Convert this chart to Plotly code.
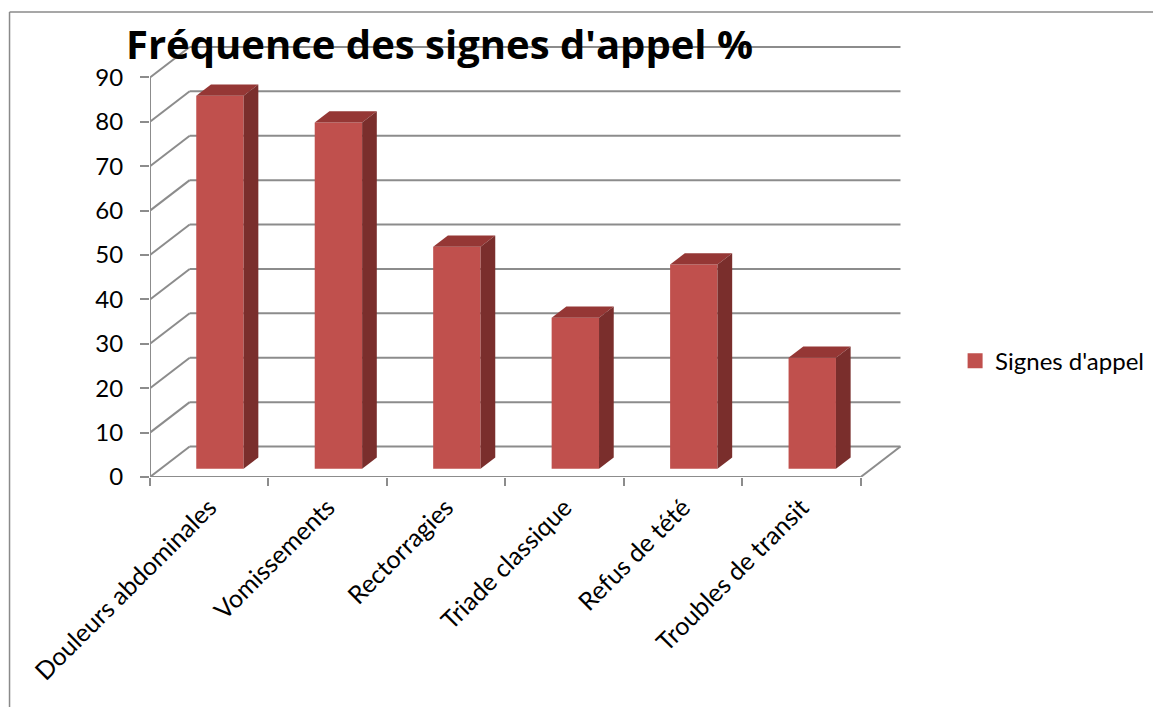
import plotly.graph_objects as go

# ---- data ----
categories = ["Douleurs abdominales", "Vomissements", "Rectorragies",
              "Triade classique", "Refus de tété", "Troubles de transit"]
values = [84, 78, 50, 34, 46, 25]
y_ticks = [0, 10, 20, 30, 40, 50, 60, 70, 80, 90]
series_name = "Signes d'appel"
title_text = "Fréquence des signes d'appel %"

# ---- geometry (pixels, page coords; page body has an 8px margin) ----
OFF = 8
W, H = 1161 - OFF, 707 - OFF
PX_CAT = 119.33
PX_UNIT = 4.444
x_range = [0, 6.5]
y_range = [0, 100]
plot_w = (x_range[1] - x_range[0]) * PX_CAT
plot_h = (y_range[1] - y_range[0]) * PX_UNIT
L = 150 - OFF                 # front axis at page x=150
bottom = 477 - OFF            # front zero at page y=477
B = H - bottom
R = W - L - plot_w
T = bottom - plot_h

DX, DY = 40.0, 30.5           # full depth offset in px
dxu, dyu = DX / PX_CAT, DY / PX_UNIT
f1, f2 = 0.27, 0.64           # bar front / back depth fraction
bar_w = 0.40

n = len(categories)
vmax = y_ticks[-1]
grid_col = "#8c8c8c"
front_col = "#C0504D"
top_col = "#953735"
side_col = "#7A2E2C"
FONT = "Lato"


def paper_x(px_page):
    return (px_page - OFF - L) / plot_w


def paper_y(py_page):
    return (bottom - (py_page - OFF)) / plot_h


fig = go.Figure()

shapes = []
# back wall gridlines and left wall diagonals
for v in y_ticks:
    shapes.append(dict(type="line", xref="x", yref="y", layer="below",
                       x0=dxu, x1=n + dxu, y0=v + dyu, y1=v + dyu,
                       line=dict(color=grid_col, width=2)))
    shapes.append(dict(type="line", xref="x", yref="y", layer="below",
                       x0=0, x1=dxu, y0=v, y1=v + dyu,
                       line=dict(color=grid_col, width=2)))
# floor front edge and right edge
shapes.append(dict(type="line", xref="x", yref="y", layer="below",
                   x0=0, x1=n, y0=0, y1=0, line=dict(color=grid_col, width=2)))
shapes.append(dict(type="line", xref="x", yref="y", layer="below",
                   x0=n, x1=n + dxu, y0=0, y1=dyu, line=dict(color=grid_col, width=2)))
# front vertical axis
shapes.append(dict(type="line", xref="x", yref="y", layer="below",
                   x0=0, x1=0, y0=0, y1=vmax, line=dict(color=grid_col, width=2)))

# outer chart border
shapes.append(dict(type="line", xref="paper", yref="paper",
                   x0=paper_x(8.5), x1=paper_x(1180),
                   y0=paper_y(11.5), y1=paper_y(11.5),
                   line=dict(color="#8a8a8a", width=1.5)))
shapes.append(dict(type="line", xref="paper", yref="paper",
                   x0=paper_x(8.5), x1=paper_x(8.5),
                   y0=paper_y(11.5), y1=paper_y(730),
                   line=dict(color="#8a8a8a", width=1.5)))

# front faces
bar_x = [i + 0.5 + f1 * dxu for i in range(n)]
fig.add_trace(go.Bar(x=bar_x, y=values, base=[f1 * dyu] * n, width=bar_w,
                     marker=dict(color=front_col, line=dict(width=0)),
                     name=series_name, showlegend=False, hoverinfo="skip"))

# top and side faces
ddx = (f2 - f1) * dxu
for i, v in enumerate(values):
    xl = bar_x[i] - bar_w / 2
    xr = bar_x[i] + bar_w / 2
    yf = v + f1 * dyu
    yb = v + f2 * dyu
    fig.add_trace(go.Scatter(x=[xl, xr, xr + ddx, xl + ddx, xl],
                             y=[yf, yf, yb, yb, yf],
                             mode="lines", fill="toself", fillcolor=top_col,
                             line=dict(width=0, color=top_col),
                             showlegend=False, hoverinfo="skip"))
    fig.add_trace(go.Scatter(x=[xr, xr, xr + ddx, xr + ddx, xr],
                             y=[f1 * dyu, yf, yb, f2 * dyu, f1 * dyu],
                             mode="lines", fill="toself", fillcolor=side_col,
                             line=dict(width=0, color=side_col),
                             showlegend=False, hoverinfo="skip"))

# legend entry
fig.add_trace(go.Scatter(x=[None], y=[None], mode="markers", name=series_name,
                         marker=dict(symbol="square", size=15, color=front_col)))

fig.update_layout(
    width=W, height=H,
    margin=dict(l=L, r=R, t=T, b=B, pad=0),
    paper_bgcolor="white", plot_bgcolor="white",
    shapes=shapes,
    font=dict(family=FONT, size=24, color="black"),
    title=dict(text=title_text,
               font=dict(family="Open Sans", size=40, color="black", weight="bold"),
               xref="container", yref="container",
               x=(439.5 - OFF) / W, xanchor="center",
               y=1 - (45 - OFF) / H, yanchor="middle"),
    showlegend=True,
    legend=dict(x=paper_x(961), xanchor="left", y=paper_y(361), yanchor="middle",
                font=dict(family=FONT, size=24, color="black"), itemwidth=30,
                bgcolor="rgba(0,0,0,0)"),
    xaxis=dict(range=x_range, showgrid=False, zeroline=False, showline=False,
               tickmode="array", tickvals=[i + 0.5 for i in range(n)], ticktext=categories,
               tickangle=-45, ticks="", ticklabelstandoff=10,
               tickfont=dict(family=FONT, size=25, color="black"),
               minor=dict(tickmode="array", tickvals=list(range(n + 1)), ticks="outside",
                          ticklen=8, tickwidth=2, tickcolor=grid_col, showgrid=False),
               fixedrange=True),
    yaxis=dict(range=y_range, showgrid=False, zeroline=False, showline=False,
               tickmode="array", tickvals=y_ticks, ticks="outside", ticklen=9,
               tickwidth=2, tickcolor=grid_col, ticklabelstandoff=12, fixedrange=True),
)

fig.write_html("out.html")
